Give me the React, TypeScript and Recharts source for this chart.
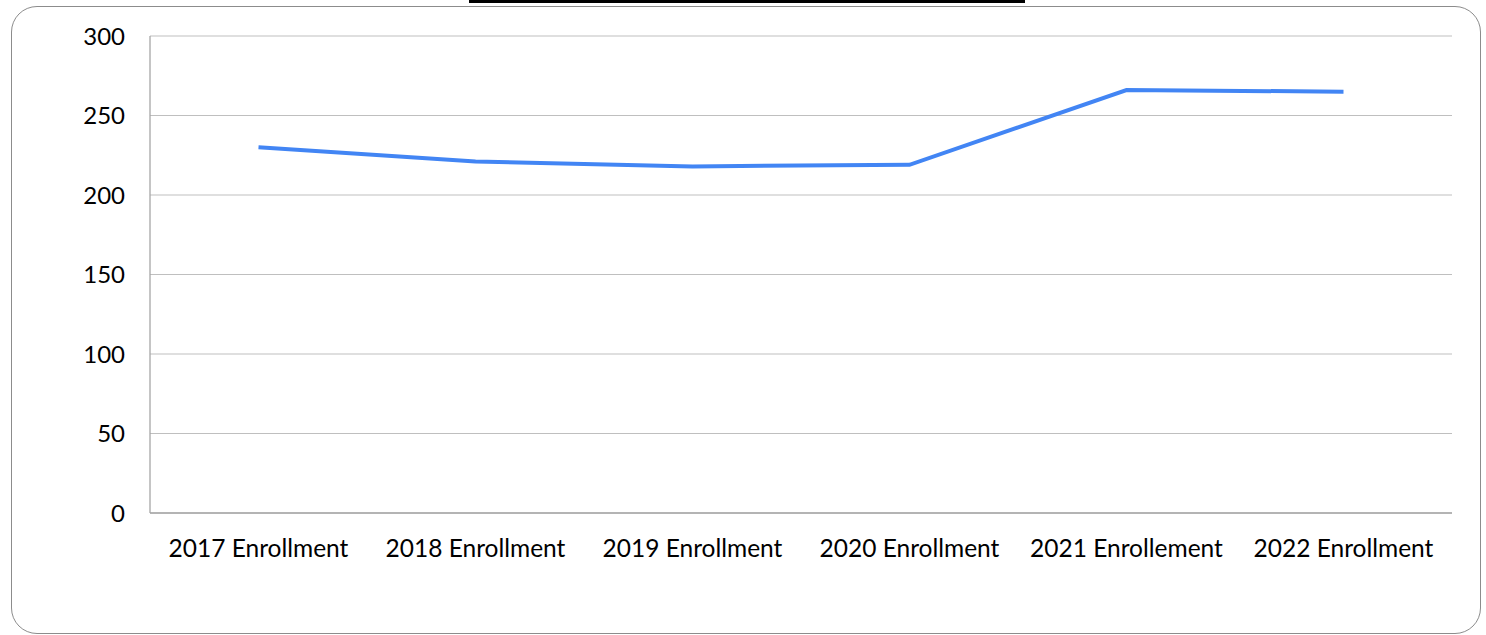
import React from "react";
import { LineChart, Line, XAxis, YAxis, CartesianGrid } from "recharts";

const categories = [
  "2017 Enrollment",
  "2018 Enrollment",
  "2019 Enrollment",
  "2020 Enrollment",
  "2021 Enrollement",
  "2022 Enrollment",
];
const enrollment = [230, 221, 218, 219, 266, 265];
const yTicks = [0, 50, 100, 150, 200, 250, 300];

const data = categories.map((c, i) => ({ name: c, value: enrollment[i] }));

const font = "Lato, 'Open Sans', sans-serif";

export default function App() {
  return (
    <div
      style={{
        position: "fixed",
        left: 0,
        top: 0,
        width: 1486,
        height: 635,
        background: "#fff",
        overflow: "hidden",
      }}
    >
      <div
        style={{
          position: "absolute",
          left: 11,
          top: 6,
          width: 1468,
          height: 626,
          border: "1.5px solid #8c8c8c",
          borderRadius: 26,
        }}
      />
      <div
        style={{
          position: "absolute",
          left: 469,
          top: 0,
          width: 556,
          height: 3,
          background: "#000",
        }}
      />
      <div style={{ position: "absolute", left: 0, top: 0 }}>
        <LineChart
          width={1486}
          height={635}
          data={data}
          margin={{ top: 36, right: 34, bottom: 92, left: 90 }}
        >
          <CartesianGrid vertical={false} stroke="#bfbfbf" strokeWidth={1} />
          <XAxis
            dataKey="name"
            axisLine={{ stroke: "#a6a6a6", strokeWidth: 1.3 }}
            tickLine={false}
            tickSize={0}
            tickMargin={27}
            height={30}
            interval={0}
            padding={{ left: 108.5, right: 108.5 }}
            tick={{ fill: "#000", fontSize: 24.5, fontFamily: font }}
          />
          <YAxis
            domain={[0, 300]}
            ticks={yTicks}
            width={60}
            axisLine={{ stroke: "#a6a6a6", strokeWidth: 1.3 }}
            tickLine={false}
            tickSize={0}
            tickMargin={25}
            tick={{ fill: "#000", fontSize: 24, fontFamily: font }}
          />
          <Line
            type="linear"
            dataKey="value"
            stroke="#4285F4"
            strokeWidth={4}
            dot={false}
            isAnimationActive={false}
          />
        </LineChart>
      </div>
    </div>
  );
}
